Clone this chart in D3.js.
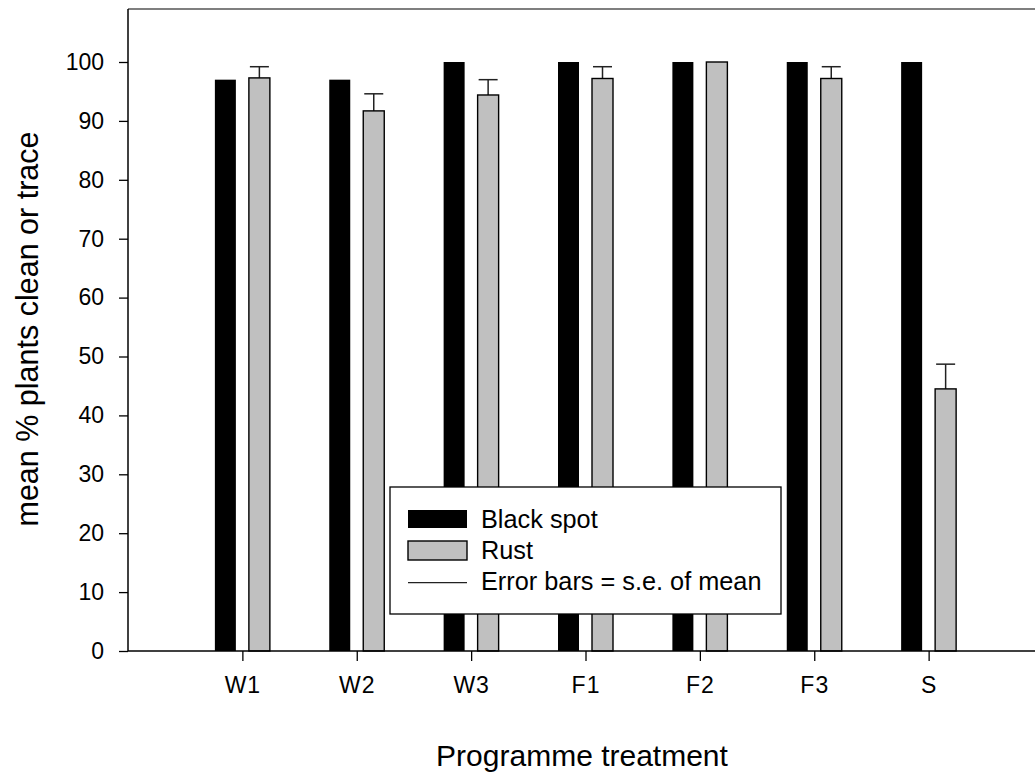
<!DOCTYPE html>
<html><head><meta charset="utf-8">
<script src="https://cdn.jsdelivr.net/npm/d3@7"></script>
<style>body{margin:0;background:#fff}svg{display:block;font-family:Arial,"Liberation Sans",sans-serif}</style>
</head><body><svg id="c" width="1035" height="775"></svg>
<script>
const categories = ["W1","W2","W3","F1","F2","F3","S"];
const blackSpot = [97, 97, 100, 100, 100, 100, 100];
const rust = [97.3, 91.7, 94.4, 97.2, 100, 97.2, 44.5];
const rustSE = [1.9, 2.9, 2.6, 2.0, 0, 2.0, 4.2];
const yTicks = [0,10,20,30,40,50,60,70,80,90,100];
const seriesNames = ["Black spot","Rust","Error bars = s.e. of mean"];

const svg = d3.select("#c");
const x = d3.scaleLinear().domain([0, 7.93]).range([128, 1035]);
const y = d3.scaleLinear().domain([0, 100]).range([651, 62]);
const bw = 21, off = 17;

// top frame line
svg.append("line").attr("x1",128).attr("x2",1035).attr("y1",y(109)).attr("y2",y(109))
  .attr("stroke","#555").attr("stroke-width",1.5);

const g = svg.append("g");
// bars
g.selectAll("rect.b").data(categories).join("rect").attr("class","b")
  .attr("x",(d,i)=>x(i+1)-off-bw/2).attr("width",bw)
  .attr("y",(d,i)=>y(blackSpot[i])).attr("height",(d,i)=>y(0)-y(blackSpot[i]))
  .attr("fill","#000");
g.selectAll("line.eb").data(categories).join("line").attr("class","eb")
  .attr("x1",(d,i)=>x(i+1)+off).attr("x2",(d,i)=>x(i+1)+off)
  .attr("y1",(d,i)=>y(rust[i])).attr("y2",(d,i)=>y(rust[i]+rustSE[i]))
  .attr("stroke","#222").attr("stroke-width",1.5);
g.selectAll("line.ec").data(categories).join("line").attr("class","ec")
  .attr("x1",(d,i)=>x(i+1)+off-bw/2+1).attr("x2",(d,i)=>x(i+1)+off+bw/2-1)
  .attr("y1",(d,i)=>y(rust[i]+rustSE[i])).attr("y2",(d,i)=>y(rust[i]+rustSE[i]))
  .attr("stroke","#222").attr("stroke-width",1.5).attr("display",(d,i)=>rustSE[i]>0?null:"none");
g.selectAll("rect.r").data(categories).join("rect").attr("class","r")
  .attr("x",(d,i)=>x(i+1)+off-bw/2).attr("width",bw)
  .attr("y",(d,i)=>y(rust[i])).attr("height",(d,i)=>y(0)-y(rust[i]))
  .attr("fill","#c0c0c0").attr("stroke","#000").attr("stroke-width",1.4);

// axes
const ya = svg.append("g").attr("transform","translate(128,0)")
  .call(d3.axisLeft(y).tickValues(yTicks).tickSize(9).tickPadding(15).tickSizeOuter(0));
ya.select(".domain").attr("d",`M0,${y(0)}V${y(109)}`).attr("stroke","#000").attr("stroke-width",1.5);
ya.selectAll("text").attr("font-size",23).attr("fill","#000").attr("font-family","Arial,'Liberation Sans',sans-serif");
ya.selectAll(".tick line").attr("stroke-width",1.3);

const xa = svg.append("g").attr("transform",`translate(0,${y(0)})`)
  .call(d3.axisBottom(x).tickValues(d3.range(1,8)).tickFormat(i=>categories[i-1]).tickSize(10).tickPadding(16).tickSizeOuter(0));
xa.select(".domain").attr("d",`M128,0H1035`).attr("stroke","#000").attr("stroke-width",1.5);
xa.selectAll("text").attr("font-size",23).attr("fill","#000").attr("letter-spacing",1).attr("font-family","Arial,'Liberation Sans',sans-serif");
xa.selectAll(".tick line").attr("stroke-width",1.3);

// titles
svg.append("text").attr("x",582).attr("y",766).attr("text-anchor","middle")
  .attr("font-size",30).text("Programme treatment");
svg.append("text").attr("transform","translate(38,329) rotate(-90)").attr("text-anchor","middle")
  .attr("font-size",30.5).text("mean % plants clean or trace");

// legend
const lg = svg.append("g");
lg.append("rect").attr("x",390).attr("y",487).attr("width",391).attr("height",127)
  .attr("fill","#fff").attr("stroke","#000").attr("stroke-width",1.3);
lg.append("rect").attr("x",408).attr("y",510).attr("width",59).attr("height",18).attr("fill","#000");
lg.append("rect").attr("x",408).attr("y",541).attr("width",59).attr("height",19)
  .attr("fill","#c0c0c0").attr("stroke","#000").attr("stroke-width",1.4);
lg.append("line").attr("x1",408).attr("x2",467).attr("y1",582.7).attr("y2",582.7)
  .attr("stroke","#222").attr("stroke-width",1.2);
const ly = [527.5, 559, 590];
lg.selectAll("text").data(seriesNames).join("text")
  .attr("x",481).attr("y",(d,i)=>ly[i]).attr("font-size",25.3).text(d=>d);
</script></body></html>
